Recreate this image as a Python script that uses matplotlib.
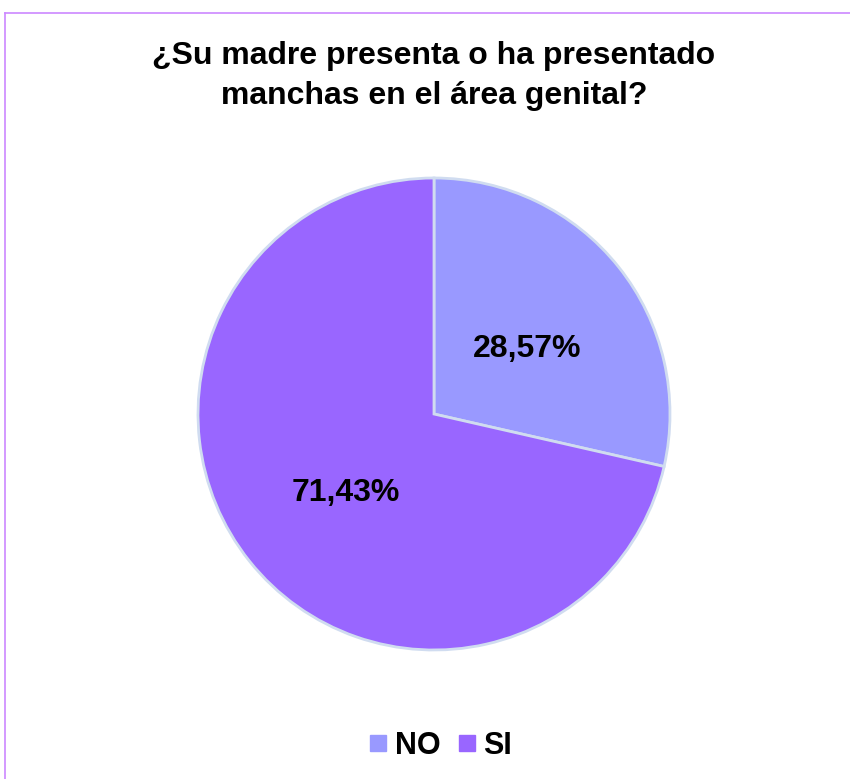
import matplotlib.pyplot as plt
from matplotlib.lines import Line2D

plt.rcParams['font.family'] = ['Liberation Sans', 'DejaVu Sans']

# Respuestas de la encuesta
categorias = ['NO', 'SI']
porcentajes = [28.57, 71.43]
colores = ['#9999FF', '#9966FF']
titulo = '¿Su madre presenta o ha presentado\nmanchas en el área genital?'

W, H = 850, 779
fig = plt.figure(figsize=(W / 100, H / 100), dpi=100)

# marco del gráfico
borde = '#CC88FF'
fig.add_artist(Line2D([5 / W, 5 / W], [0, 1 - 13 / H], color=borde, lw=1.2))
fig.add_artist(Line2D([5 / W, 1], [1 - 13 / H, 1 - 13 / H], color=borde, lw=1.2))

fig.text(434 / W, 1 - 76 / H, titulo, ha='center', va='center',
         fontsize=23, fontweight='bold', linespacing=1.45)

cx, cy, r = 434, H - 414, 236
ax = fig.add_axes([(cx - r) / W, (cy - r) / H, 2 * r / W, 2 * r / H])
wedges, textos = ax.pie(porcentajes, colors=colores, startangle=90, counterclock=False,
                        labels=[f'{p:.2f}%'.replace('.', ',') for p in porcentajes],
                        labeldistance=0.49, radius=1,
                        wedgeprops=dict(edgecolor='#D0DCF0', linewidth=2),
                        textprops=dict(fontsize=23, fontweight='bold', ha='center', va='center'))
for t in textos:
    t.set_horizontalalignment('center')
    x, y = t.get_position()
    t.set_position((x + 0.01, y - 0.03))
ax.set_xlim(-1, 1)
ax.set_ylim(-1, 1)
ax.set_aspect('equal')
ax.axis('off')

handles = [Line2D([], [], marker='s', linestyle='none', markersize=12,
                  markerfacecolor=c, markeredgecolor=c) for c in colores]
fig.legend(handles, categorias, loc='center', bbox_to_anchor=(440 / W, 1 - 746 / H),
           ncol=2, frameon=False, prop=dict(size=22, weight='bold'),
           handletextpad=0.2, columnspacing=0.5, handlelength=0.7)

fig.savefig('out.png', dpi=100)
